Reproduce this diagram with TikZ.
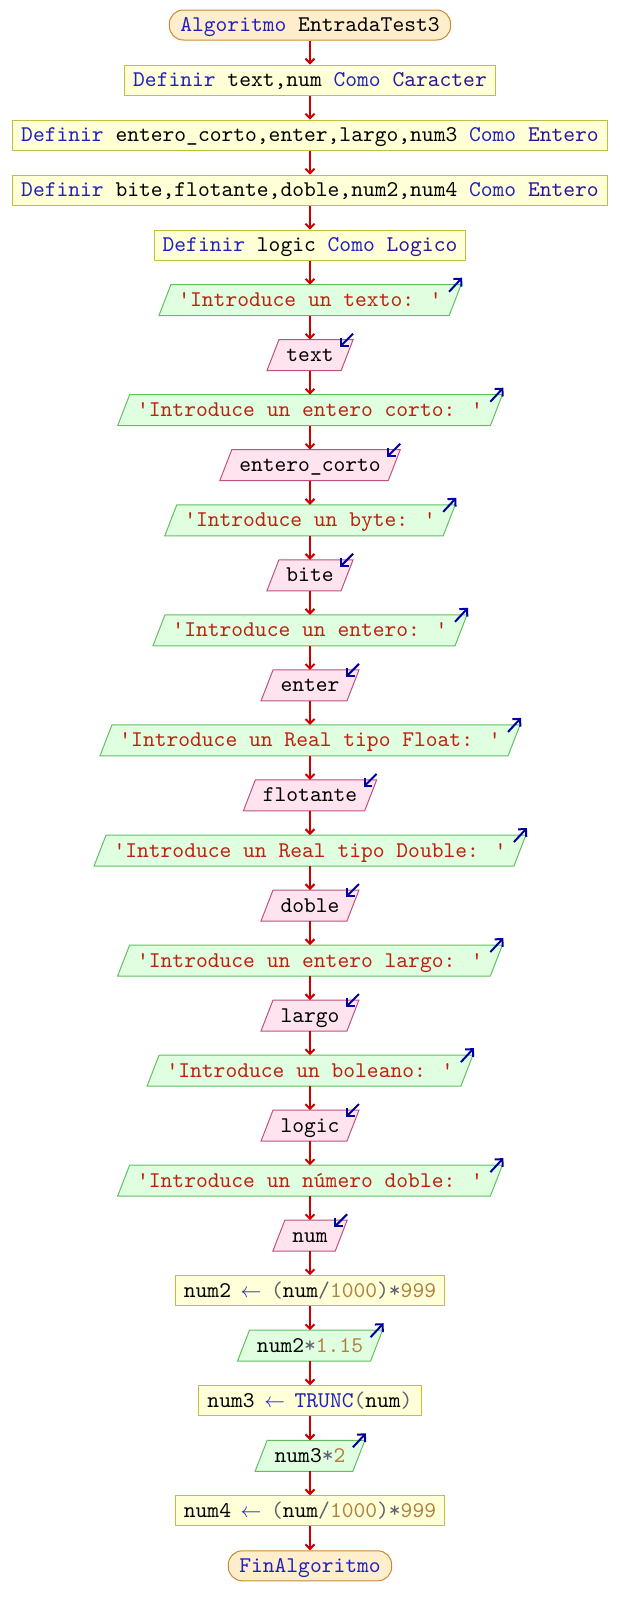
\documentclass[tikz,border=0pt]{standalone}
\usepackage{fontspec}
\newfontfamily\codefont{lmmono10-regular.otf}
\usetikzlibrary{arrows.meta,backgrounds}
\definecolor{termfill}{RGB}{255,238,204}
\definecolor{termdraw}{RGB}{204,136,51}
\definecolor{procfill}{RGB}{255,255,216}
\definecolor{procdraw}{RGB}{192,192,64}
\definecolor{outfill}{RGB}{224,255,224}
\definecolor{outdraw}{RGB}{96,192,96}
\definecolor{infill}{RGB}{255,228,240}
\definecolor{indraw}{RGB}{192,80,128}
\definecolor{flowred}{RGB}{204,0,0}
\definecolor{iconblue}{RGB}{0,0,160}
\definecolor{kwblue}{RGB}{32,32,192}
\definecolor{tyblue}{RGB}{48,16,160}
\definecolor{strred}{RGB}{192,32,16}
\definecolor{numbrown}{RGB}{176,128,64}
\definecolor{opgrey}{RGB}{96,96,112}
\newcommand{\mykw}[1]{\textcolor{kwblue}{#1}}
\newcommand{\myty}[1]{\textcolor{tyblue}{#1}}
\newcommand{\mystr}[1]{\textcolor{strred}{#1}}
\newcommand{\mynum}[1]{\textcolor{numbrown}{#1}}
\newcommand{\myop}[1]{\textcolor{opgrey}{#1}}
\newcommand{\myq}{\textquotesingle}
\newcommand{\myarr}{\makebox[40pt]{\textcolor{kwblue}{$\leftarrow$}}}
\tikzset{
  base/.style={font=\codefont\fontsize{22.45pt}{24pt}\selectfont, minimum height=30pt,
    inner ysep=0pt, text height=13pt, text depth=0pt, line width=1pt, anchor=center},
  term/.style={base, rectangle, rounded corners=14pt, fill=termfill, draw=termdraw, inner xsep=11pt},
  proc/.style={base, rectangle, fill=procfill, draw=procdraw, inner xsep=8.6pt},
  io/.style={base, rectangle, inner xsep=19pt},
  flow/.style={draw=flowred, line width=2pt, -{Straight Barb[length=4.5pt,width=9pt]}},
  icon/.style={draw=iconblue, line width=2pt, -{Straight Barb[length=5.5pt,width=11pt]}},
  ioshape/.style={line width=1pt},
}
\newcommand{\outshape}[1]{%
  \begin{pgfonlayer}{background}
    \path[ioshape, fill=outfill, draw=outdraw] ([xshift=12pt]#1.north west) -- (#1.north east)
      -- ([xshift=-12pt]#1.south east) -- (#1.south west) -- cycle;
  \end{pgfonlayer}
  \draw[icon] ([shift={(-12pt,-7pt)}]#1.north east) -- ([shift={(1pt,7pt)}]#1.north east);}
\newcommand{\inshape}[1]{%
  \begin{pgfonlayer}{background}
    \path[ioshape, fill=infill, draw=indraw] ([xshift=12pt]#1.north west) -- (#1.north east)
      -- ([xshift=-12pt]#1.south east) -- (#1.south west) -- cycle;
  \end{pgfonlayer}
  \draw[icon] ([shift={(0pt,6pt)}]#1.north east) -- ([shift={(-13pt,-7pt)}]#1.north east);}
\begin{document}
\begin{tikzpicture}[x=1pt,y=-1pt]
\useasboundingbox (0,0) rectangle (620,1615);
\node[term] (n0) at (310,25.0) {\mykw{Algoritmo} EntradaTest3};
\node[proc] (n1) at (310,80.0) {\mykw{Definir} text,num \mykw{Como} \myty{Caracter}};
\node[proc] (n2) at (310,135.1) {\mykw{Definir} entero\_corto,enter,largo,num3 \mykw{Como} \myty{Entero}};
\node[proc] (n3) at (310,190.1) {\mykw{Definir} bite,flotante,doble,num2,num4 \mykw{Como} \myty{Entero}};
\node[proc] (n4) at (310,245.1) {\mykw{Definir} logic \mykw{Como} \myty{Logico}};
\node[io] (n5) at (310,300.2) {\mystr{\myq Introduce un texto: \myq}};
\node[io] (n6) at (310,355.2) {text};
\node[io] (n7) at (310,410.2) {\mystr{\myq Introduce un entero corto: \myq}};
\node[io] (n8) at (310,465.2) {entero\_corto};
\node[io] (n9) at (310,520.3) {\mystr{\myq Introduce un byte: \myq}};
\node[io] (n10) at (310,575.3) {bite};
\node[io] (n11) at (310,630.3) {\mystr{\myq Introduce un entero: \myq}};
\node[io] (n12) at (310,685.4) {enter};
\node[io] (n13) at (310,740.4) {\mystr{\myq Introduce un Real tipo Float: \myq}};
\node[io] (n14) at (310,795.4) {flotante};
\node[io] (n15) at (310,850.5) {\mystr{\myq Introduce un Real tipo Double: \myq}};
\node[io] (n16) at (310,905.5) {doble};
\node[io] (n17) at (310,960.5) {\mystr{\myq Introduce un entero largo: \myq}};
\node[io] (n18) at (310,1015.5) {largo};
\node[io] (n19) at (310,1070.6) {\mystr{\myq Introduce un boleano: \myq}};
\node[io] (n20) at (310,1125.6) {logic};
\node[io] (n21) at (310,1180.6) {\mystr{\myq Introduce un número doble: \myq}};
\node[io] (n22) at (310,1235.7) {num};
\node[proc] (n23) at (310,1290.7) {num2\myarr\myop{(}num\myop{/}\mynum{1000}\myop{)*}\mynum{999}};
\node[io] (n24) at (310,1345.7) {num2\myop{*}\mynum{1.15}};
\node[proc] (n25) at (310,1400.8) {num3\myarr\mykw{TRUNC}\myop{(}num\myop{)}};
\node[io] (n26) at (310,1455.8) {num3\myop{*}\mynum{2}};
\node[proc] (n27) at (310,1510.8) {num4\myarr\myop{(}num\myop{/}\mynum{1000}\myop{)*}\mynum{999}};
\node[term] (n28) at (310,1565.8) {\mykw{FinAlgoritmo}};
\foreach \n in {n5,n7,n9,n11,n13,n15,n17,n19,n21,n24,n26} {\outshape{\n}}
\foreach \n in {n6,n8,n10,n12,n14,n16,n18,n20,n22} {\inshape{\n}}
\foreach \a [evaluate=\a as \b using int(\a+1)] in {0,...,27}
  \draw[flow] (n\a.south) -- (n\b.north);
\end{tikzpicture}
\end{document}
